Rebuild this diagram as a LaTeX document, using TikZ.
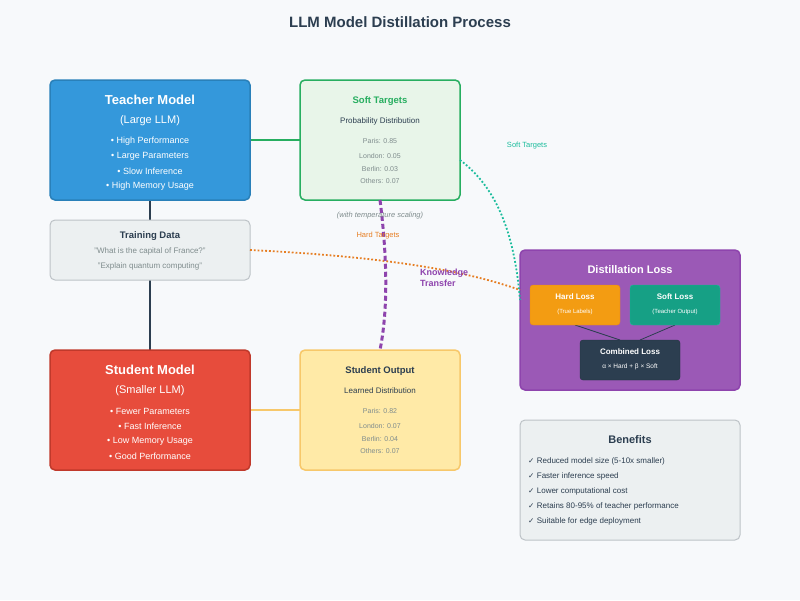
\documentclass[tikz,border=0pt]{standalone}
\usepackage{fontspec}
\setmainfont{Liberation Sans}
\begin{document}
\begin{tikzpicture}[x=1pt,y=-1pt,
 box/.style={rounded corners=5pt,line width=1.5pt},
 t/.style={inner sep=0pt,anchor=center},
 bold14/.style={t,font=\bfseries\fontsize{13}{15}\selectfont},
 f12/.style={t,font=\fontsize{11}{13}\selectfont},
 f10/.style={t,font=\fontsize{9}{11}\selectfont},
 f9/.style={t,font=\fontsize{8}{10}\selectfont},
 f8/.style={t,font=\fontsize{7}{9}\selectfont}]
\definecolor{bg}{HTML}{F7F9FB}
\definecolor{dark}{HTML}{2C3E50}
\definecolor{grayt}{HTML}{7F8C8D}
\definecolor{blue1}{HTML}{3498DB}\definecolor{blue2}{HTML}{2980B9}
\definecolor{red1}{HTML}{E74C3C}\definecolor{red2}{HTML}{C0392B}
\definecolor{grn}{HTML}{27AE60}\definecolor{grnf}{HTML}{E8F5E9}
\definecolor{lg}{HTML}{ECF0F1}\definecolor{lgb}{HTML}{BDC3C7}
\definecolor{yf}{HTML}{FFEAA7}\definecolor{yb}{HTML}{F7C86A}
\definecolor{pur}{HTML}{9B59B6}\definecolor{pur2}{HTML}{8E44AD}
\definecolor{org}{HTML}{F39C12}\definecolor{org2}{HTML}{E67E22}
\definecolor{teal}{HTML}{16A085}\definecolor{teal2}{HTML}{1ABC9C}
\fill[bg] (0,0) rectangle (800,600);
\useasboundingbox (0,0) rectangle (800,600);
\node[t,font=\bfseries\fontsize{15}{18}\selectfont,text=dark] (title) at (400,22) {LLM Model Distillation Process};
% connectors behind
\coordinate (tb) at (150,200); \coordinate (trt) at (150,220);
\draw[dark,line width=1.2pt] (150,200) -- (150,220) (150,280) -- (150,350);
\draw[grn,line width=1.2pt] (250,140) -- (300,140);
\draw[yb,line width=1.2pt] (250,410) -- (300,410);
% boxes
\draw[box,fill=blue1,draw=blue2] (50,80) rectangle (250,200);
\node[bold14,white] (tm) at (150,100) {Teacher Model};
\node[f12,white] at (150,121) {(Large LLM)};
\node[f10,white] at (150,141) {• High Performance};
\node[f10,white] at (150,156) {• Large Parameters};
\node[f10,white] at (150,171) {• Slow Inference};
\node[f10,white] at (150,186) {• High Memory Usage};
\draw[box,fill=grnf,draw=grn] (300,80) rectangle (460,200);
\node[t,font=\bfseries\fontsize{9.5}{11}\selectfont,text=grn] (st) at (380,101) {Soft Targets};
\node[f9,dark] at (380,121) {Probability Distribution};
\node[f8,grayt] at (380,141) {Paris: 0.85};
\node[f8,grayt] at (380,156) {London: 0.05};
\node[f8,grayt] at (380,169) {Berlin: 0.03};
\node[f8,grayt] at (380,181) {Others: 0.07};
\draw[box,fill=lg,draw=lgb,line width=1pt] (50,220) rectangle (250,280);
\node[t,font=\bfseries\fontsize{9.5}{11}\selectfont,text=dark] (td) at (150,236) {Training Data};
\node[f9,grayt] at (150,251) {"What is the capital of France?"};
\node[f9,grayt] at (150,266) {"Explain quantum computing"};
\draw[box,fill=red1,draw=red2] (50,350) rectangle (250,470);
\node[bold14,white] (sm) at (150,370) {Student Model};
\node[f12,white] at (150,391) {(Smaller LLM)};
\node[f10,white] at (150,411) {• Fewer Parameters};
\node[f10,white] at (150,426) {• Fast Inference};
\node[f10,white] at (150,441) {• Low Memory Usage};
\node[f10,white] at (150,456) {• Good Performance};
\draw[box,fill=yf,draw=yb] (300,350) rectangle (460,470);
\node[t,font=\bfseries\fontsize{9.5}{11}\selectfont,text=dark] (so) at (380,371) {Student Output};
\node[f9,dark] at (380,391) {Learned Distribution};
\node[f8,grayt] at (380,411) {Paris: 0.82};
\node[f8,grayt] at (380,426) {London: 0.07};
\node[f8,grayt] at (380,439) {Berlin: 0.04};
\node[f8,grayt] at (380,451) {Others: 0.07};
\draw[box,fill=pur,draw=pur2] (520,250) rectangle (740,390);
\node[t,font=\bfseries\fontsize{11}{13}\selectfont,white] (dl) at (630,270) {Distillation Loss};
\draw[dark,line width=0.8pt] (575,325) -- (620,340) (675,325) -- (640,340);
\draw[rounded corners=3pt,fill=org,draw=org2!80!org] (530,285) rectangle (620,325);
\node[t,font=\bfseries\fontsize{8}{10}\selectfont,white] (hl) at (575,297) {Hard Loss};
\node[t,font=\fontsize{6}{8}\selectfont,white] at (575,312) {(True Labels)};
\draw[rounded corners=3pt,fill=teal,draw=teal2] (630,285) rectangle (720,325);
\node[t,font=\bfseries\fontsize{8}{10}\selectfont,white] (sl) at (675,297) {Soft Loss};
\node[t,font=\fontsize{6}{8}\selectfont,white] at (675,312) {(Teacher Output)};
\draw[rounded corners=3pt,fill=dark,draw=dark!80!black] (580,340) rectangle (680,380);
\node[t,font=\bfseries\fontsize{8}{10}\selectfont,white] (cl) at (630,352) {Combined Loss};
\node[t,font=\fontsize{6.5}{8}\selectfont,white] at (630,367) {α × Hard + β × Soft};
\draw[box,fill=lg,draw=lgb,line width=1pt] (520,420) rectangle (740,540);
\node[t,font=\bfseries\fontsize{11}{13}\selectfont,text=dark] (bn) at (630,440) {Benefits};
\foreach \y/\s in {461/Reduced model size (5-10x smaller),476/Faster inference speed,491/Lower computational cost,506/Retains 80-95\% of teacher performance,521/Suitable for edge deployment}
  \node[f9,dark,anchor=west] at (528,\y) {\fontspec{DejaVu Sans}\fontsize{7.5}{9}\selectfont✓\ \fontspec{Liberation Sans}\fontsize{8}{10}\selectfont\s};
% flows
\draw[teal2,line width=1.8pt,dotted] (460,160) .. controls (500,190) and (515,240) .. (520,300);
\draw[org2,line width=1.8pt,dotted] (250,250) .. controls (350,255) and (450,265) .. (520,290);
\draw[pur2,line width=3pt,dash pattern=on 5pt off 3pt] (380,200) .. controls (385,240) and (390,300) .. (380,350);
\node[t,font=\itshape\fontsize{7.5}{9}\selectfont,text=grayt] (ts) at (380,216) {(with temperature scaling)};
\node[t,font=\fontsize{7.5}{9}\selectfont,text=org2] (ht) at (378,236) {Hard Targets};
\node[t,font=\fontsize{7.5}{9}\selectfont,text=teal2] (stl) at (527,146) {Soft Targets};
\node[t,font=\bfseries\fontsize{9}{11}\selectfont,text=pur2,anchor=west,align=left] (kt) at (420,278) {Knowledge\\Transfer};
\end{tikzpicture}
\end{document}
